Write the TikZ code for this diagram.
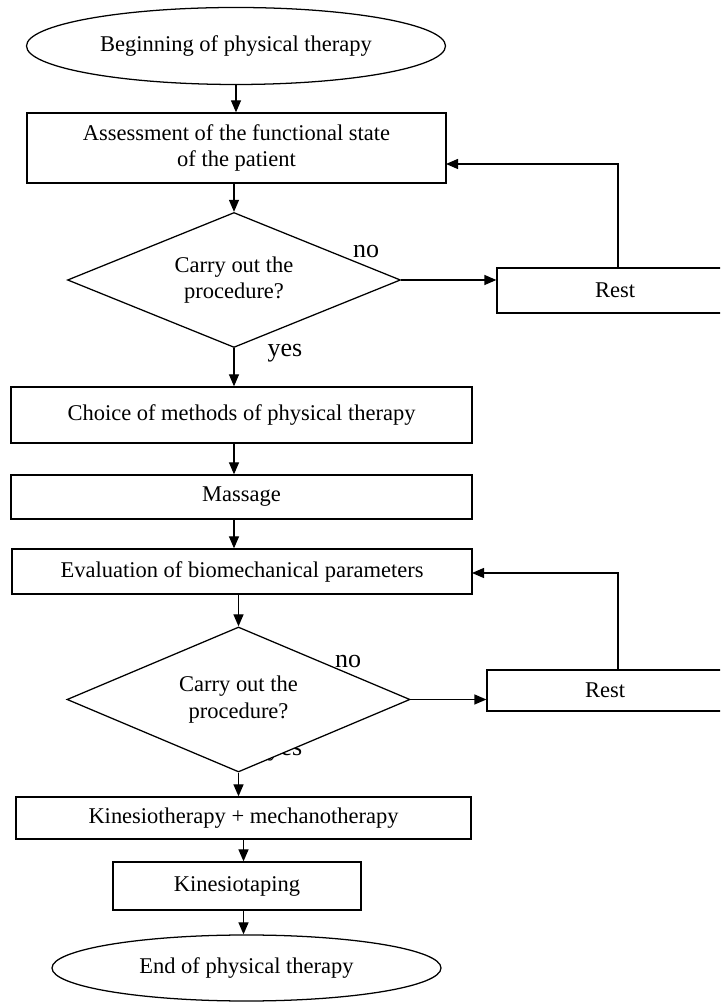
\documentclass[tikz,border=0pt]{standalone}
\usepackage{fontspec}
\setmainfont{Liberation Serif}
\usetikzlibrary{arrows.meta,shapes.geometric}

\begin{document}
\begin{tikzpicture}[>={Triangle[length=0.3cm,width=0.25cm]},line width=0.9pt,
  block/.style={draw,rectangle,inner sep=0pt,align=center,font=\fontsize{16}{19}\selectfont},
  term/.style={draw,ellipse,inner sep=0pt,font=\fontsize{16}{19}\selectfont},
  decision/.style={draw,diamond,aspect=2.5,fill=white,inner sep=0pt,align=center,font=\fontsize{16}{19}\selectfont},
  answer/.style={inner sep=0pt,font=\fontsize{18.5}{22}\selectfont}]
  \useasboundingbox (0,0) rectangle (18,25.175);
  \clip (0,0) rectangle (18,25.175);
  \node[term,minimum width=10.475cm,minimum height=1.925cm] (start) at (5.9,24.025) {Beginning of physical therapy};
  \node[block,minimum width=10.475cm,minimum height=1.75cm] (assess) at (5.9125,21.475) {Assessment of the functional state\\of the patient};
  \node[decision,minimum width=8.325cm,minimum height=3.375cm] (check1) at (5.85,18.175) {Carry out the\\procedure?};
  \node[block,minimum width=5.9cm,minimum height=1.125cm] (rest1) at (15.375,17.9125) {Rest};
  \node[block,minimum width=11.525cm,minimum height=1.4cm] (choice) at (6.0375,14.8) {Choice of methods of physical therapy};
  \node[block,minimum width=11.525cm,minimum height=1.1cm] (massage) at (6.0375,12.75) {Massage};
  \node[block,minimum width=11.5cm,minimum height=1.125cm] (evaluate) at (6.05,10.8875) {Evaluation of biomechanical parameters};
  \node[answer] (yes2) at (7.125,6.375) {yes};
  \node[decision,minimum width=8.575cm,minimum height=3.625cm] (check2) at (5.9625,7.6875) {Carry out the\\procedure?};
  \node[block,minimum width=5.9cm,minimum height=1.025cm] (rest2) at (15.125,7.9125) {Rest};
  \node[block,minimum width=11.375cm,minimum height=1.05cm] (kinesio) at (6.0875,4.725) {Kinesiotherapy + mechanotherapy};
  \node[block,minimum width=6.2cm,minimum height=1.2cm] (taping) at (5.925,3.025) {Kinesiotaping};
  \node[term,minimum width=9.725cm,minimum height=1.65cm] (finish) at (6.1625,0.975) {End of physical therapy};
  \node[answer] (no1) at (9.15,18.875) {no};
  \node[answer] (yes1) at (7.125,16.35) {yes};
  \node[answer] (no2) at (8.7,8.625) {no};
  \coordinate (back1) at (11.15,21.075);
  \coordinate (back2) at (11.8,10.85);
  \draw[->] (start.south) -- (start.south |- assess.north);
  \draw[->] (check1.north |- assess.south) -- (check1.north);
  \draw[->] (check1.east) -- (check1.east -| rest1.west);
  \draw[->] ([xshift=0.075cm]rest1.north) |- (back1);
  \draw[->] (check1.south) -- (check1.south |- choice.north);
  \draw[->] (check1.south |- choice.south) -- (check1.south |- massage.north);
  \draw[->] (check1.south |- massage.south) -- (check1.south |- evaluate.north);
  \draw[->] (check2.north |- evaluate.south) -- (check2.north);
  \draw[->] (check2.east) -- (check2.east -| rest2.west);
  \draw[->] ([xshift=0.325cm]rest2.north) |- (back2);
  \draw[->] (check2.south) -- (check2.south |- kinesio.north);
  \draw[->] (kinesio.south) -- (kinesio.south |- taping.north);
  \draw[->] (kinesio.south |- taping.south) -- (kinesio.south |- finish.north);
\end{tikzpicture}
\end{document}
